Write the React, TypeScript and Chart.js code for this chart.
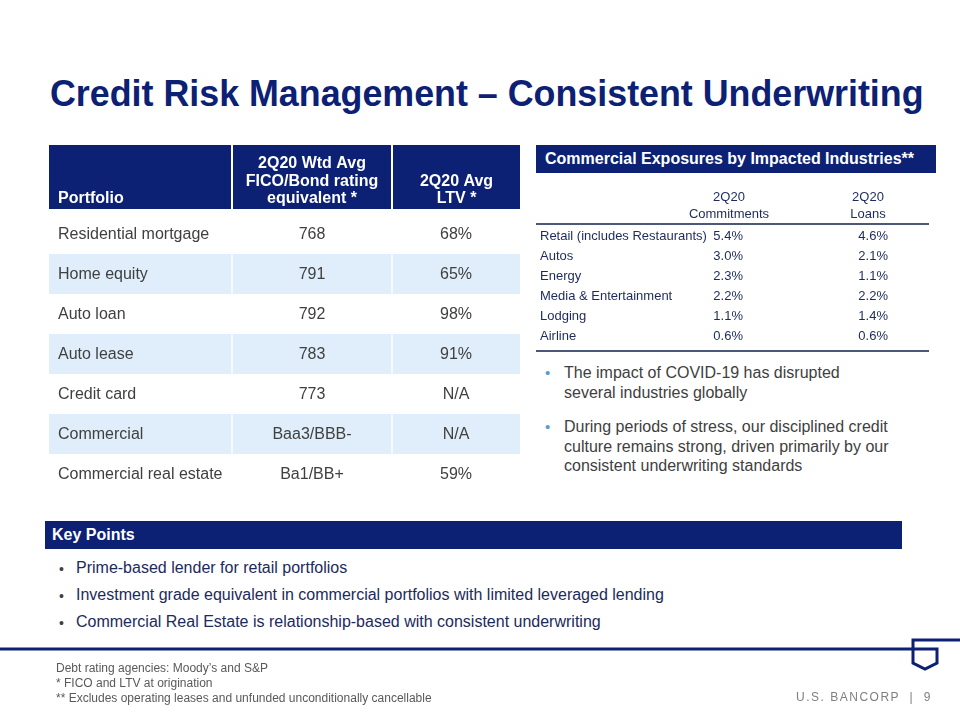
import React, { useEffect, useRef } from "react";
import { Chart, registerables } from "chart.js";

Chart.register(...registerables);

// ---------- text content ----------
const slideTitle = "Credit Risk Management – Consistent Underwriting";

// Left table: portfolio quality
const portfolioHeader = ["Portfolio", "2Q20 Wtd Avg\nFICO/Bond rating\nequivalent *", "2Q20 Avg\nLTV *"];
const portfolios = [
  "Residential mortgage",
  "Home equity",
  "Auto loan",
  "Auto lease",
  "Credit card",
  "Commercial",
  "Commercial real estate",
];
const ficoRatings = ["768", "791", "792", "783", "773", "Baa3/BBB-", "Ba1/BB+"];
const avgLtv = ["68%", "65%", "98%", "91%", "N/A", "N/A", "59%"];

// Right table: commercial exposures
const exposureTitle = "Commercial Exposures by Impacted Industries**";
const exposureHeader = ["2Q20\nCommitments", "2Q20\nLoans"];
const industries = [
  "Retail (includes Restaurants)",
  "Autos",
  "Energy",
  "Media & Entertainment",
  "Lodging",
  "Airline",
];
const commitments = [5.4, 3.0, 2.3, 2.2, 1.1, 0.6];
const loans = [4.6, 2.1, 1.1, 2.2, 1.4, 0.6];

const sideBullets = [
  ["The impact of COVID-19 has disrupted", "several industries globally"],
  [
    "During periods of stress, our disciplined credit",
    "culture remains strong, driven primarily by our",
    "consistent underwriting standards",
  ],
];

const keyPointsTitle = "Key Points";
const keyPoints = [
  "Prime-based lender for retail portfolios",
  "Investment grade equivalent in commercial portfolios with limited leveraged lending",
  "Commercial Real Estate is relationship-based with consistent underwriting",
];

const footnotes = [
  "Debt rating agencies: Moody’s and S&P",
  "* FICO and LTV at origination",
  "** Excludes operating leases and unfunded unconditionally cancellable",
];
const brandText = "U.S. BANCORP  |  9";

// ---------- styling / layout (not data) ----------
const NAVY = "#0c2074";
const SHADE = "#dfeefa";
const BODY_GRAY = "#404040";
const TABLE_NAVY = "#1c2a5c";
const LINE_GRAY = "#4d5878";
const SANS = '"Liberation Sans", Arial, Helvetica, sans-serif';
const NARROW = '"Liberation Sans Narrow", "Arial Narrow", "Liberation Sans", sans-serif';

const LEFT_COLS = [0, 183, 343, 471];
const RIGHT_POS = { label: 4, commitRight: 207, loansRight: 352, commitHead: 193, loansHead: 332, lineEnd: 393 };

function LeftTable() {
  const ref = useRef<HTMLCanvasElement>(null);
  useEffect(() => {
    const canvas = ref.current;
    if (!canvas) return;
    const tablePlugin = {
      id: "portfolioTable",
      beforeDatasetsDraw(chart: any) {
        const { ctx, chartArea, scales } = chart;
        const xs = scales.x;
        const hBottom = chartArea.top - 5;
        ctx.save();
        for (let c = 0; c < 3; c++) {
          const x0 = xs.getPixelForValue(LEFT_COLS[c]) + (c > 0 ? 1 : 0);
          const x1 = xs.getPixelForValue(LEFT_COLS[c + 1]) - (c < 2 ? 1 : 0);
          ctx.fillStyle = NAVY;
          ctx.fillRect(x0, 0, x1 - x0, hBottom);
          const lines = portfolioHeader[c].split("\n");
          ctx.fillStyle = "#ffffff";
          ctx.font = `bold 16px ${SANS}`;
          ctx.textBaseline = "alphabetic";
          ctx.textAlign = c === 0 ? "left" : "center";
          const tx = c === 0 ? x0 + 9 : (x0 + x1) / 2;
          lines.forEach((ln, k) => {
            ctx.fillText(ln, tx, hBottom - 6 - (lines.length - 1 - k) * 17.5);
          });
        }
        ctx.restore();
      },
      afterDatasetsDraw(chart: any) {
        const { ctx, scales } = chart;
        const xs = scales.x;
        const ys = scales.y;
        ctx.save();
        ctx.font = `16px ${SANS}`;
        ctx.fillStyle = BODY_GRAY;
        ctx.textBaseline = "middle";
        const cols = [portfolios, ficoRatings, avgLtv];
        portfolios.forEach((_, i) => {
          const yy = ys.getPixelForValue(i) + 1;
          cols.forEach((col, c) => {
            if (c === 0) {
              ctx.textAlign = "left";
              ctx.fillText(col[i], xs.getPixelForValue(LEFT_COLS[0]) + 9, yy);
            } else {
              ctx.textAlign = "center";
              const cx = (xs.getPixelForValue(LEFT_COLS[c]) + xs.getPixelForValue(LEFT_COLS[c + 1])) / 2;
              ctx.fillText(col[i], cx, yy);
            }
          });
        });
        ctx.restore();
      },
    };

    const datasets = [0, 1, 2].map((c) => ({
      label: portfolioHeader[c],
      data: portfolios.map(() => [LEFT_COLS[c], LEFT_COLS[c + 1]]),
      backgroundColor: portfolios.map((_, i) => (i % 2 === 1 ? SHADE : "#ffffff")),
      borderColor: "#ffffff",
      borderWidth: { left: c > 0 ? 1 : 0, right: c < 2 ? 1 : 0, top: 0, bottom: 0 },
      borderSkipped: false,
      grouped: false,
      barPercentage: 1,
      categoryPercentage: 1,
    }));

    const chart = new Chart(canvas, {
      type: "bar",
      data: { labels: portfolios, datasets: datasets as any },
      options: {
        indexAxis: "y",
        responsive: false,
        animation: false,
        layout: { padding: { top: 69, bottom: 0, left: 0, right: 0 } },
        plugins: { legend: { display: false }, tooltip: { enabled: false } },
        scales: {
          x: { type: "linear", min: LEFT_COLS[0], max: LEFT_COLS[3], display: false },
          y: { type: "category", display: false, offset: true },
        },
      },
      plugins: [tablePlugin],
    });
    return () => chart.destroy();
  }, []);
  return <canvas ref={ref} width={471} height={349} style={{ position: "absolute", left: 49, top: 145 }} />;
}

function RightTable() {
  const ref = useRef<HTMLCanvasElement>(null);
  useEffect(() => {
    const canvas = ref.current;
    if (!canvas) return;
    const plugin = {
      id: "exposureTable",
      afterDatasetsDraw(chart: any) {
        const { ctx, chartArea, scales } = chart;
        const xs = scales.x;
        const ys = scales.y;
        const px = (v: number) => xs.getPixelForValue(v);
        ctx.save();
        ctx.fillStyle = TABLE_NAVY;
        ctx.font = `13px ${SANS}`;
        ctx.textBaseline = "alphabetic";
        ctx.textAlign = "center";
        const heads = [RIGHT_POS.commitHead, RIGHT_POS.loansHead];
        exposureHeader.forEach((h, c) => {
          const lines = h.split("\n");
          lines.forEach((ln, k) => {
            ctx.fillText(ln, px(heads[c]), chartArea.top - 7 - (lines.length - 1 - k) * 17);
          });
        });
        ctx.strokeStyle = LINE_GRAY;
        ctx.lineWidth = 2;
        ctx.beginPath();
        ctx.moveTo(px(0), chartArea.top - 1);
        ctx.lineTo(px(RIGHT_POS.lineEnd), chartArea.top - 1);
        ctx.moveTo(px(0), chartArea.bottom + 6);
        ctx.lineTo(px(RIGHT_POS.lineEnd), chartArea.bottom + 6);
        ctx.stroke();
        ctx.textBaseline = "middle";
        industries.forEach((name, i) => {
          const yy = ys.getPixelForValue(i) + 1;
          ctx.textAlign = "left";
          ctx.fillText(name, px(RIGHT_POS.label), yy);
          ctx.textAlign = "right";
          ctx.fillText(`${commitments[i].toFixed(1)}%`, px(RIGHT_POS.commitRight), yy);
          ctx.fillText(`${loans[i].toFixed(1)}%`, px(RIGHT_POS.loansRight), yy);
        });
        ctx.restore();
      },
    };
    const chart = new Chart(canvas, {
      type: "bar",
      data: {
        labels: industries,
        datasets: [
          { label: "2Q20 Commitments", data: commitments, backgroundColor: "rgba(0,0,0,0)", xAxisID: "v" },
          { label: "2Q20 Loans", data: loans, backgroundColor: "rgba(0,0,0,0)", xAxisID: "v" },
        ],
      },
      options: {
        indexAxis: "y",
        responsive: false,
        animation: false,
        layout: { padding: { top: 45, bottom: 11, left: 0, right: 0 } },
        plugins: { legend: { display: false }, tooltip: { enabled: false } },
        scales: {
          x: { type: "linear", min: 0, max: 400, display: false },
          v: { type: "linear", min: 0, max: 10, display: false, axis: "x" } as any,
          y: { type: "category", display: false, offset: true },
        },
      },
      plugins: [plugin],
    });
    return () => chart.destroy();
  }, []);
  return <canvas ref={ref} width={400} height={176} style={{ position: "absolute", left: 536, top: 180 }} />;
}

function T(props: { x?: number; right?: number; baseline: number; size: number; style?: any; children: any }) {
  const { x, right, baseline, size, style, children } = props;
  const pos: any = { position: "absolute", top: baseline - 0.8465 * size, fontSize: size, lineHeight: `${size}px`, whiteSpace: "nowrap" };
  if (right !== undefined) pos.right = right;
  else pos.left = x;
  return <div style={{ ...pos, ...style }}>{children}</div>;
}

export default function App() {
  useEffect(() => {
    document.body.style.margin = "0";
  }, []);
  return (
    <div style={{ position: "absolute", left: 0, top: 0, width: 960, height: 720, overflow: "hidden", background: "#fff", fontFamily: SANS }}>
      <T x={50} baseline={107} size={37.5} style={{ fontFamily: NARROW, fontWeight: 700, color: NAVY, transform: "scaleX(0.955)", transformOrigin: "left center" }}>
        {slideTitle}
      </T>

      <LeftTable />

      <div style={{ position: "absolute", left: 536, top: 145, width: 400, height: 28, background: NAVY }} />
      <T x={545} baseline={165} size={16} style={{ fontWeight: 700, color: "#fff" }}>
        {exposureTitle}
      </T>
      <RightTable />

      {sideBullets.map((lines, b) => {
        const base0 = b === 0 ? 379 : 433;
        return (
          <React.Fragment key={b}>
            <T x={545} baseline={base0 - 1} size={15} style={{ color: "#5b9bd5" }}>
              •
            </T>
            {lines.map((ln, k) => (
              <T key={k} x={564} baseline={base0 + k * 19.5} size={16} style={{ color: BODY_GRAY }}>
                {ln}
              </T>
            ))}
          </React.Fragment>
        );
      })}

      <div style={{ position: "absolute", left: 45, top: 521, width: 857, height: 28, background: NAVY }} />
      <T x={52} baseline={541} size={16} style={{ fontFamily: NARROW, fontWeight: 700, color: "#fff" }}>
        {keyPointsTitle}
      </T>
      {keyPoints.map((kp, i) => (
        <React.Fragment key={i}>
          <T x={59} baseline={574 + i * 27} size={14} style={{ color: BODY_GRAY }}>
            •
          </T>
          <T x={76} baseline={574 + i * 27} size={16} style={{ fontFamily: NARROW, color: TABLE_NAVY }}>
            {kp}
          </T>
        </React.Fragment>
      ))}

      <svg width={960} height={720} style={{ position: "absolute", left: 0, top: 0, pointerEvents: "none" }}>
        <path d="M0 649 H937 V663 L925 669 L913 663 V640 H960" fill="none" stroke={NAVY} strokeWidth={3} strokeLinejoin="miter" />
      </svg>

      {footnotes.map((f, i) => (
        <T key={i} x={56} baseline={672 + i * 15} size={12} style={{ fontFamily: NARROW, color: "#595959" }}>
          {f}
        </T>
      ))}
      <T right={28} baseline={701} size={12} style={{ color: "#7f7f7f", letterSpacing: 1.5, whiteSpace: "pre" }}>
        {brandText}
      </T>
    </div>
  );
}
